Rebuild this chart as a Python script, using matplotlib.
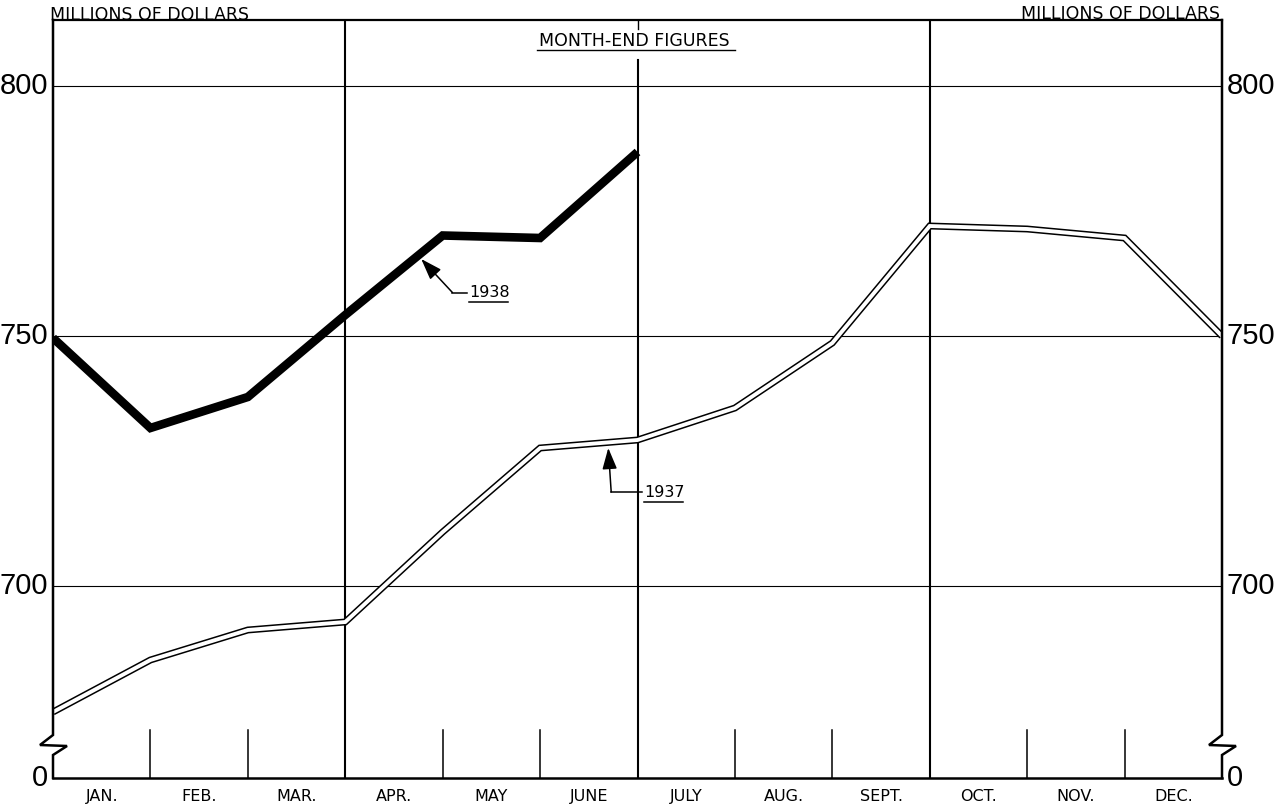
import matplotlib
matplotlib.use("Agg")
import matplotlib.pyplot as plt
import matplotlib.transforms as mtransforms
import numpy as np

plt.rcParams['font.family'] = ['Liberation Sans', 'DejaVu Sans']

# ---------------- data ----------------
months = ["JAN.", "FEB.", "MAR.", "APR.", "MAY", "JUNE", "JULY", "AUG.", "SEPT.", "OCT.", "NOV.", "DEC."]
# month-end points: index 0 = end of previous December, 1..12 = month ends
x_1938 = [0, 1, 2, 3, 4, 5, 6]
v_1938 = [749.5, 731.5, 737.7, 754.1, 770.0, 769.5, 786.7]
x_1937 = [0, 1, 2, 3, 4, 5, 6, 7, 8, 9, 10, 11, 12]
v_1937 = [674.7, 685.1, 691.1, 692.7, 710.7, 727.5, 729.1, 735.5, 748.5, 771.9, 771.3, 769.5, 749.9]
ytick_vals = [700, 750, 800]
ytick_labels = ["700", "750", "800"]
y_bottom = 661.5   # axis bottom, shown as "0" (broken axis)
y_top = 813.1

fig = plt.figure(figsize=(12.79, 8.08), dpi=100)
ax = fig.add_axes([53/1279, 30/808, 1169/1279, 758/808])
ax.set_xlim(0, 12)
ax.set_ylim(y_bottom, y_top)
for s in ['left', 'right']:
    ax.spines[s].set_visible(False)
ax.spines['top'].set_linewidth(1.6)
ax.spines['bottom'].set_linewidth(1.8)
ax.set_xticks([])
ax.set_yticks([])

lbl_font = dict(fontsize=21)
# horizontal grid lines
for v in ytick_vals:
    ax.axhline(v, color='k', lw=0.8, zorder=1)
# y labels both sides
for v, t in zip(ytick_vals + [y_bottom], ytick_labels + ["0"]):
    ax.text(-0.05, v, t, ha='right', va='center', **lbl_font)
    ax.text(12.05, v, t, ha='left', va='center', **lbl_font)

# quarter lines
ax.axvline(3, color='k', lw=1.5, zorder=1)
ax.axvline(9, color='k', lw=1.5, zorder=1)
ax.plot([6, 6], [y_bottom, 805.2], color='k', lw=1.5, zorder=1)
ax.plot([6, 6], [y_top - 1.7, y_top], color='k', lw=1.0, zorder=1)

# short month-end ticks
tr = mtransforms.blended_transform_factory(ax.transData, ax.transAxes)
for m in [1, 2, 4, 5, 7, 8, 10, 11]:
    ax.plot([m, m], [0, 0.063], color='k', lw=1.1, transform=tr, zorder=1)

# month labels
for i, m in enumerate(months):
    ax.text(i + 0.5, -0.025, m, transform=tr, ha='center', va='center', fontsize=11.5,
            family=['DejaVu Sans'])

# broken side axes (axes fraction coordinates)
def side_axis(x0):
    fx = 1 / 1169.0
    fy = 1 / 758.0
    ya = (778 - 735) * fy
    yb = (778 - 755) * fy
    xs = [x0, x0, x0 - 13 * fx, x0 + 14 * fx, x0, x0]
    ys = [1, ya, ya - 10 * fy, ya - 11 * fy, yb, 0]
    ax.plot(xs, ys, color='k', lw=1.8, transform=ax.transAxes, clip_on=False,
            solid_joinstyle='miter', zorder=5)

side_axis(0.0)
side_axis(1.0)

# 1937 double line
ax.plot(x_1937, v_1937, color='k', lw=5.0, solid_joinstyle='miter', solid_capstyle='butt', zorder=3)
ax.plot(x_1937, v_1937, color='white', lw=2.8, solid_joinstyle='miter', solid_capstyle='butt', zorder=4)
# 1938 heavy line
ax.plot(x_1938, v_1938, color='k', lw=6.2, solid_joinstyle='miter', solid_capstyle='butt', zorder=4)

# annotations
def label(text, tip, bend, tx):
    ax.annotate('', xy=tip, xytext=bend,
                arrowprops=dict(arrowstyle='-|>,head_length=1.3,head_width=0.45',
                                lw=1.1, color='k', shrinkA=0, shrinkB=0), zorder=6)
    ax.plot([bend[0], tx - 0.02], [bend[1], bend[1]], color='k', lw=1.1, zorder=6)
    ax.text(tx, bend[1], text, ha='left', va='center', fontsize=11.5,
            family=['DejaVu Sans'], zorder=6)
    ax.plot([tx, tx + 0.40], [bend[1] - 1.9, bend[1] - 1.9], color='k', lw=1.1, zorder=6)

label("1938", (3.78, 765.3), (4.10, 758.6), 4.27)
label("1937", (5.70, 727.5), (5.73, 718.7), 6.07)

# headers
fig.text(50/1279, 1 - 15/808, "MILLIONS OF DOLLARS", ha='left', va='center', fontsize=12.5,
         family=['DejaVu Sans'])
fig.text(1220/1279, 1 - 14/808, "MILLIONS OF DOLLARS", ha='right', va='center', fontsize=12.5,
         family=['DejaVu Sans'])
ax.text(581/1169, 1 - 21/758, "MONTH-END FIGURES", transform=ax.transAxes, ha='center',
        va='center', fontsize=12.5, family=['DejaVu Sans'])
ax.plot([484/1169, 682/1169], [1 - 30/758, 1 - 30/758], color='k', lw=1.0,
        transform=ax.transAxes)

fig.savefig("out.png", dpi=100, facecolor='white')
